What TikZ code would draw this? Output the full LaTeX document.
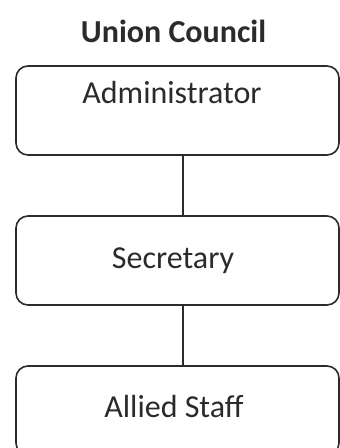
\documentclass[tikz,border=0pt]{standalone}
\usepackage{fontspec}
\setmainfont{Carlito}
\definecolor{ink}{HTML}{2B2B2B}
\begin{document}
\begin{tikzpicture}[x=1pt,y=-1pt,
  box/.style={draw=ink,line width=1.6pt,rounded corners=12pt,minimum width=323pt,minimum height=89pt,inner sep=0pt},
  lbl/.style={anchor=base,text=ink,font=\fontsize{32}{36}\selectfont,inner sep=0pt},
  conn/.style={draw=ink,line width=1.6pt}]
\useasboundingbox (0,0) rectangle (340,448);
\node[anchor=base,text=ink,font=\fontsize{32}{36}\selectfont\bfseries,inner sep=0pt] (title) at (173.5,42) {Union Council};
\node[box] (b1) at (177.5,110.5) {};
\node[box] (b2) at (177.5,260.5) {};
\node[box] (b3) at (177.5,410.5) {};
\node[lbl] (t1) at (172,103) {Administrator};
\node[lbl] (t2) at (173,268) {Secretary};
\node[lbl] (t3) at (174,417) {Allied Staff};
\draw[conn] ([xshift=5.5pt]b1.south) -- ([xshift=5.5pt]b2.north);
\draw[conn] ([xshift=5.5pt]b2.south) -- ([xshift=5.5pt]b3.north);
\end{tikzpicture}
\end{document}
